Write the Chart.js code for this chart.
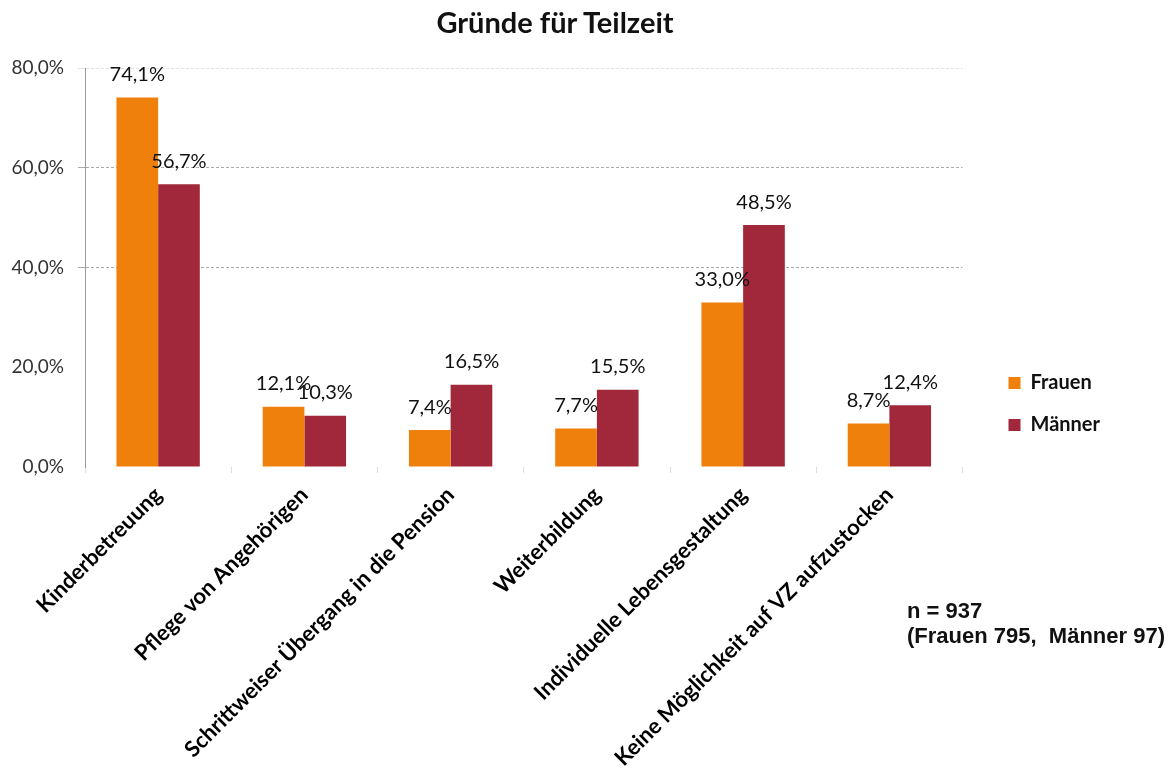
<!DOCTYPE html>
<html lang="de">
<head>
    <meta charset="UTF-8">
    <title>Gründe für Teilzeit</title>
    <style>
        body {
            margin: 0;
            background: #fff;
        }

        .wrap {
            position: relative;
            width: 1170px;
            height: 771px;
        }

        h1 {
            position: absolute;
            top: 4px;
            left: 355px;
            width: 400px;
            margin: 0;
            text-align: center;
            font-family: Lato, sans-serif;
            font-weight: bold;
            font-size: 29px;
            color: #111;
        }

        .note {
            position: absolute;
            left: 907px;
            top: 598px;
            font-family: 'Liberation Sans', Arial, sans-serif;
            font-weight: bold;
            font-size: 22px;
            line-height: 25px;
            color: #111;
            white-space: pre;
        }
    </style>
    <script src="https://cdn.jsdelivr.net/npm/chart.js"></script>
</head>
<body>

<div class="wrap">
    <canvas id="chart" width="1170" height="771"></canvas>
    <h1>Gründe für Teilzeit</h1>
    <div class="note">n = 937
(Frauen 795,  Männer 97)</div>
</div>

<script>
    const categories = [
        'Kinderbetreuung',
        'Pflege von Angehörigen',
        'Schrittweiser Übergang in die Pension',
        'Weiterbildung',
        'Individuelle Lebensgestaltung',
        'Keine Möglichkeit auf VZ aufzustocken'
    ];
    const frauen = [74.1, 12.1, 7.4, 7.7, 33.0, 8.7];
    const maenner = [56.7, 10.3, 16.5, 15.5, 48.5, 12.4];
    const yTicks = [0, 20, 40, 60, 80];

    const fmt = v => v.toFixed(1).replace('.', ',') + '%';

    // value labels above each bar
    const barLabels = {
        id: 'barLabels',
        afterDatasetsDraw(chart) {
            const ctx = chart.ctx;
            ctx.save();
            ctx.font = '20px Lato';
            ctx.fillStyle = '#111';
            ctx.textAlign = 'center';
            ctx.textBaseline = 'middle';
            chart.data.datasets.forEach((ds, i) => {
                chart.getDatasetMeta(i).data.forEach((bar, j) => {
                    ctx.fillText(fmt(ds.data[j]), bar.x, bar.y - 23);
                });
            });
            ctx.restore();
        }
    };

    new Chart(document.getElementById('chart'), {
        type: 'bar',
        data: {
            labels: categories,
            datasets: [
                { label: 'Frauen', data: frauen, backgroundColor: '#EF800C' },
                { label: 'Männer', data: maenner, backgroundColor: '#A0283A' }
            ]
        },
        options: {
            responsive: false,
            animation: false,
            layout: { padding: { top: 37, right: 60, left: 0, bottom: 0 } },
            datasets: {
                bar: { categoryPercentage: 0.57, barPercentage: 1.0 }
            },
            scales: {
                x: {
                    offset: true,
                    border: { display: false },
                    grid: {
                        offset: true,
                        drawOnChartArea: false,
                        tickLength: 6,
                        color: '#ddd'
                    },
                    ticks: {
                        maxRotation: 45,
                        minRotation: 45,
                        padding: 9,
                        color: '#000',
                        font: { family: 'Lato', size: 22, weight: 'bold' }
                    },
                    afterFit(scale) { scale.height = 304; }
                },
                // empty spacer above the plot (room for the title)
                xt: {
                    position: 'top',
                    type: 'category',
                    border: { display: false },
                    grid: { display: false },
                    ticks: { display: false },
                    afterFit(scale) { scale.height = 31; }
                },
                y: {
                    min: 0,
                    max: 80,
                    afterBuildTicks(scale) {
                        scale.ticks = yTicks.map(v => ({ value: v }));
                    },
                    border: { display: true, color: '#999', dash: [3, 2] },
                    grid: {
                        tickLength: 7,
                        color: ctx => {
                            const v = ctx.tick.value;
                            if (v === 40 || v === 60) return '#aaa';
                            if (v === 80) return '#e4e4e4';
                            return 'rgba(0,0,0,0)';
                        }
                    },
                    ticks: {
                        padding: 14,
                        color: '#333',
                        font: { family: 'Lato', size: 19 },
                        callback: v => fmt(v)
                    },
                    afterFit(scale) { scale.width = 85; }
                },
                // empty spacer between plot and legend
                yr: {
                    position: 'right',
                    min: 0,
                    max: 80,
                    border: { display: false },
                    grid: { display: false },
                    ticks: { display: false },
                    afterFit(scale) { scale.width = 24; }
                }
            },
            plugins: {
                legend: {
                    position: 'right',
                    labels: {
                        boxWidth: 12,
                        boxHeight: 12,
                        padding: 22,
                        color: '#111',
                        font: { family: 'Lato', size: 20, weight: 'bold' }
                    }
                },
                tooltip: { enabled: false }
            }
        },
        plugins: [barLabels]
    });
</script>

</body>
</html>
